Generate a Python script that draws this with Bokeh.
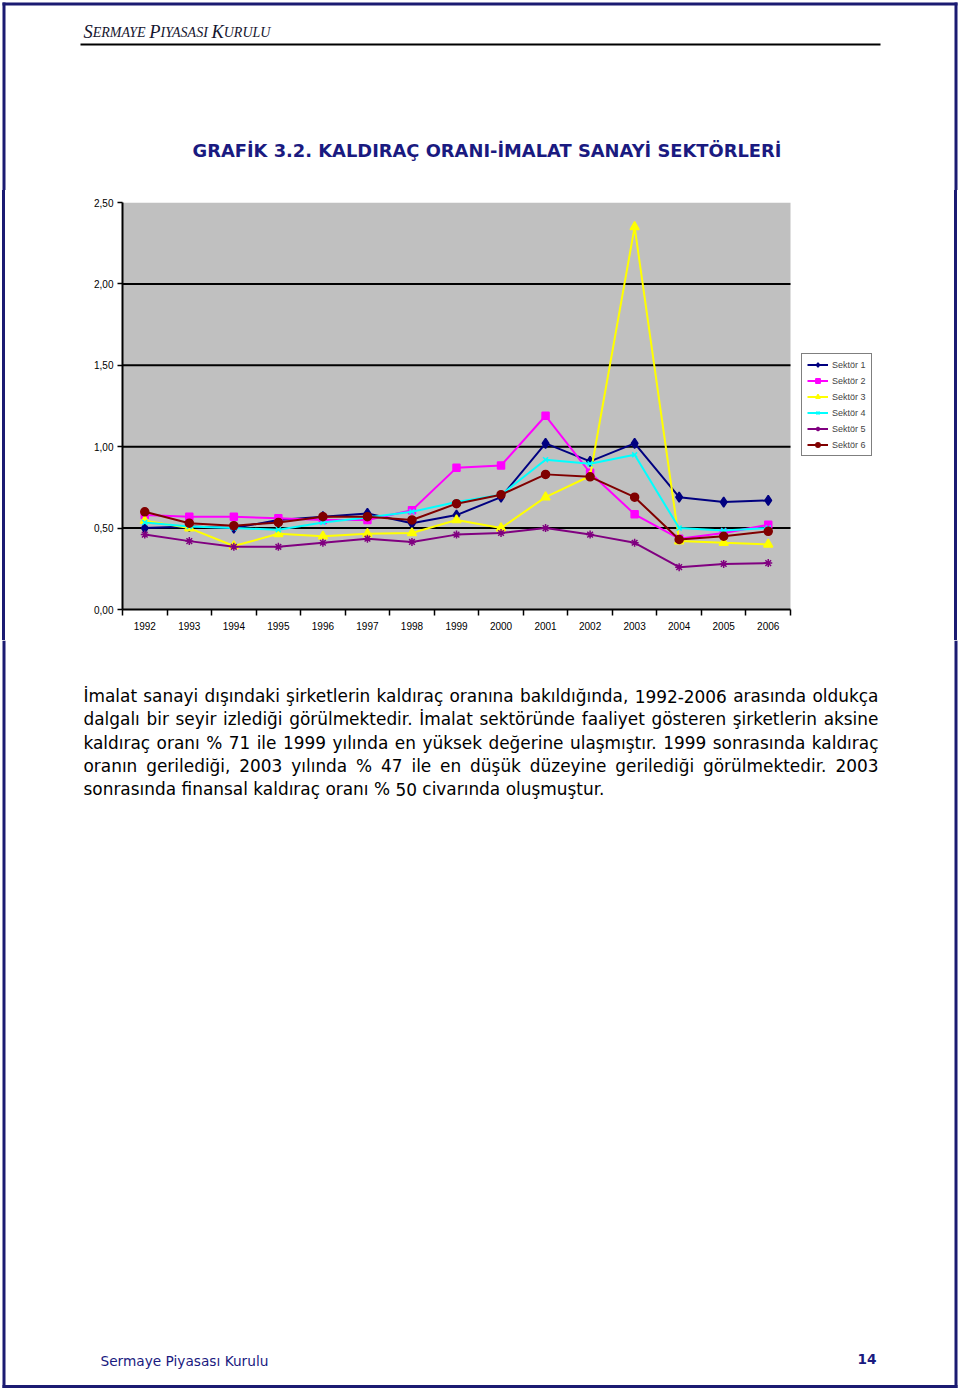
import glob
import os
import subprocess

from bokeh.core.properties import value
from bokeh.embed import file_html
from bokeh.layouts import column, row
from bokeh.models import (ColumnDataSource, CustomJSTickFormatter, FixedTicker,
                          Legend, LegendItem, Range1d, Spacer)
from bokeh.plotting import figure
from bokeh.resources import INLINE

try:
    from PIL import ImageFont
except Exception:  # pragma: no cover
    ImageFont = None

# ---------------------------------------------------------------- data
years = [1992, 1993, 1994, 1995, 1996, 1997, 1998, 1999,
         2000, 2001, 2002, 2003, 2004, 2005, 2006]
sektor1 = [0.50, 0.51, 0.50, 0.55, 0.57, 0.59, 0.53, 0.58,
           0.69, 1.02, 0.91, 1.02, 0.69, 0.66, 0.67]
sektor2 = [0.58, 0.57, 0.57, 0.56, 0.55, 0.55, 0.61, 0.87,
           0.885, 1.19, 0.84, 0.585, 0.435, 0.47, 0.52]
sektor3 = [0.545, 0.50, 0.39, 0.465, 0.45, 0.465, 0.47, 0.55,
           0.50, 0.69, 0.82, 2.35, 0.42, 0.41, 0.40]
sektor4 = [0.535, 0.51, 0.50, 0.49, 0.535, 0.565, 0.60, 0.66,
           0.705, 0.92, 0.895, 0.95, 0.50, 0.485, 0.50]
sektor5 = [0.46, 0.42, 0.385, 0.385, 0.41, 0.435, 0.415, 0.46,
           0.47, 0.50, 0.46, 0.41, 0.26, 0.28, 0.285]
sektor6 = [0.60, 0.53, 0.515, 0.535, 0.57, 0.57, 0.55, 0.65,
           0.705, 0.83, 0.815, 0.69, 0.43, 0.45, 0.48]
series_names = ["Sektör 1", "Sektör 2", "Sektör 3", "Sektör 4", "Sektör 5", "Sektör 6"]
y_ticks = [0, 0.5, 1.0, 1.5, 2.0, 2.5]

title_text = "GRAFİK 3.2. KALDIRAÇ ORANI-İMALAT SANAYİ SEKTÖRLERİ"
body_lines = [
    "İmalat sanayi dışındaki şirketlerin kaldıraç oranına bakıldığında, 1992-2006 arasında oldukça",
    "dalgalı bir seyir izlediği görülmektedir. İmalat sektöründe faaliyet gösteren şirketlerin aksine",
    "kaldıraç oranı % 71 ile 1999 yılında en yüksek değerine ulaşmıştır. 1999 sonrasında kaldıraç",
    "oranın gerilediği, 2003 yılında % 47 ile en düşük düzeyine gerilediği görülmektedir. 2003",
    "sonrasında finansal kaldıraç oranı % 50 civarında oluşmuştur.",
]
footer_text = "Sermaye Piyasası Kurulu"
page_number = "14"

# ---------------------------------------------------------------- styles
NAVY = "#1a1a80"
BORDER = "#1b1b72"
colors = ["#000080", "#FF00FF", "#FFFF00", "#00FFFF", "#800080", "#800000"]
markers = ["diamond", "square", "triangle", "x", "asterisk", "circle"]
msizes = [10, 7, 9, 7, 8, 8]
DY = -6  # baseline correction

# ---------------------------------------------------------------- text metrics
FONT_FILES = {
    ("DejaVu Sans", ""): ["DejaVuSans.ttf"],
    ("DejaVu Sans", "bold"): ["DejaVuSans-Bold.ttf"],
    ("Liberation Serif", "italic"): ["LiberationSerif-Italic.ttf"],
}
_cache = {}


def font_path(family, style):
    key = (family, style)
    if key in _cache:
        return _cache[key]
    path = None
    for name in FONT_FILES.get(key, []):
        for root in ["/usr/share/fonts", "/usr/local/share/fonts",
                     os.path.expanduser("~/.fonts"), os.path.expanduser("~/.local/share/fonts")]:
            hits = glob.glob(os.path.join(root, "**", name), recursive=True)
            if hits:
                path = hits[0]
                break
        if path:
            break
    if path is None:
        try:
            pat = family + (":" + style if style else "")
            out = subprocess.run(["fc-match", "-f", "%{file}", pat],
                                 capture_output=True, text=True, timeout=5).stdout.strip()
            if out and os.path.exists(out):
                path = out
        except Exception:
            path = None
    _cache[key] = path
    return path


def measure(text, family, style, size):
    path = font_path(family, style)
    if ImageFont is not None and path:
        try:
            f = ImageFont.truetype(path, 200)
            return f.getlength(text) * size / 200.0
        except Exception:
            pass
    return len(text) * 0.58 * size


def fit_size(text, family, style, width):
    return width / measure(text, family, style, 1.0)


def page_fig(w, h, x0, x1, y_top, y_bottom, fill="white"):
    f = figure(width=w, height=h, x_range=Range1d(x0, x1),
               y_range=Range1d(y_bottom, y_top), output_backend="svg",
               toolbar_location=None, x_axis_type=None, y_axis_type=None,
               min_border=0)
    f.outline_line_color = None
    f.background_fill_color = fill
    f.border_fill_color = fill
    return f


def put_text(f, xs, ys, texts, family, size, style="normal", color="black"):
    src = ColumnDataSource(dict(x=xs, y=[v + DY for v in ys], t=texts))
    f.text(x="x", y="y", text="t", source=src, text_font=value(family),
           text_font_size=value(f"{size:.2f}px"), text_font_style=value(style),
           text_color=color, text_align=value("left"),
           text_baseline=value("alphabetic"))


# ---------------------------------------------------------------- top part
top = page_fig(960, 190, 0, 960, 0, 190)
top.segment(x0=[2, 3.5, 955.5], y0=[3.5, 2, 2], x1=[957, 3.5, 955.5], y1=[3.5, 190, 190],
            line_color=BORDER, line_width=3)
top.segment(x0=[80], y0=[44], x1=[880], y1=[44], line_color="black", line_width=2)

# small caps header
pieces = [("S", 1), ("ERMAYE ", 0), ("P", 1), ("IYASASI ", 0), ("K", 1), ("URULU", 0)]
ratio = 0.76
unit = sum(measure(t, "Liberation Serif", "italic", 1.0) * (1 if big else ratio)
           for t, big in pieces)
big_size = 187 / unit
x = 83.0
for t, big in pieces:
    s = big_size if big else big_size * ratio
    put_text(top, [x], [37], [t], "Liberation Serif", s, "italic", "#14142e")
    x += measure(t, "Liberation Serif", "italic", s)

tsize = fit_size(title_text, "DejaVu Sans", "bold", 589)
put_text(top, [192], [156], [title_text], "DejaVu Sans", tsize, "bold", NAVY)

# ---------------------------------------------------------------- chart
# frame: page x 122 .. 880 (gray plot area 122 .. 790, legend to its right)
FRAME_W = 758
PLOT_W = 668
x_start = years[0] - 0.5
x_last = years[-1] + 0.5
x_end = x_start + (x_last - x_start) * FRAME_W / PLOT_W

p = figure(width=949, height=450, x_range=Range1d(x_start, x_end),
           y_range=Range1d(0, 2.5), output_backend="svg", toolbar_location=None,
           min_border_left=117, min_border_right=949 - 117 - FRAME_W,
           min_border_top=12, min_border_bottom=31)
p.background_fill_color = "white"
p.border_fill_color = "white"
p.outline_line_color = None
p.xgrid.visible = False
p.ygrid.visible = False

# gray plot area and horizontal grid lines, limited to the category span
p.quad(left=[x_start], right=[x_last], bottom=[y_ticks[0]], top=[y_ticks[-1]],
       fill_color="#C0C0C0", line_color=None)
grid_vals = y_ticks[1:-1]
p.segment(x0=[x_start] * len(grid_vals), x1=[x_last] * len(grid_vals),
          y0=grid_vals, y1=grid_vals, line_color="black", line_width=2)

yax = p.yaxis[0]
yax.ticker = FixedTicker(ticks=y_ticks)
yax.formatter = CustomJSTickFormatter(code="return tick.toFixed(2).replace('.', ',');")
yax.axis_line_color = "black"
yax.axis_line_width = 2
yax.major_tick_out = 5
yax.major_tick_in = 0
yax.major_tick_line_width = 1.5
yax.minor_tick_line_color = None
yax.major_label_standoff = 4
yax.major_label_text_font = "Liberation Sans"
yax.major_label_text_font_size = "10px"
yax.major_label_text_color = "black"

boundaries = [y - 0.5 for y in years] + [years[-1] + 0.5]
xax = p.xaxis[0]
xax.bounds = (x_start, x_last)
xax.ticker = FixedTicker(ticks=years, minor_ticks=boundaries)
xax.formatter = CustomJSTickFormatter(code="return tick.toFixed(0);")
xax.axis_line_color = "black"
xax.axis_line_width = 2
xax.major_tick_line_color = None
xax.major_tick_out = 5
xax.major_tick_in = 0
xax.minor_tick_line_color = "black"
xax.minor_tick_line_width = 1.5
xax.minor_tick_out = 6
xax.minor_tick_in = 0
xax.major_label_standoff = 6
xax.major_label_text_font = "Liberation Sans"
xax.major_label_text_font_size = "10px"
xax.major_label_text_color = "black"

all_series = [sektor1, sektor2, sektor3, sektor4, sektor5, sektor6]
items = []
for name, vals, c, m, ms in zip(series_names, all_series, colors, markers, msizes):
    src = ColumnDataSource(dict(x=years, y=vals))
    lr = p.line(x="x", y="y", source=src, line_color=c, line_width=2)
    sr = p.scatter(x="x", y="y", source=src, marker=m, size=ms,
                   fill_color=c, line_color=c, line_width=1.5)
    items.append(LegendItem(label=name, renderers=[lr, sr]))

# legend: left edge 11px right of the gray area, bottom 153px above frame bottom
legend = Legend(items=items, location=(PLOT_W + 11, 153))
legend.margin = 0
legend.padding = 5
legend.spacing = 5
legend.glyph_width = 21
legend.glyph_height = 11
legend.label_height = 11
legend.label_standoff = 4
legend.label_text_font = "Liberation Sans"
legend.label_text_font_size = "9px"
legend.border_line_color = "black"
legend.border_line_width = 1
legend.background_fill_color = "white"
legend.background_fill_alpha = 1
p.add_layout(legend)

left_bar = Spacer(width=3, height=450, margin=0, styles={"background-color": BORDER})
right_bar = Spacer(width=3, height=450, margin=0, styles={"background-color": BORDER})
middle = row(Spacer(width=2, height=450, margin=0), left_bar, p, right_bar,
             Spacer(width=3, height=450, margin=0), spacing=0)

# ---------------------------------------------------------------- bottom part
bot = page_fig(960, 749, 0, 960, 640, 1389)
bot.segment(x0=[3.5, 955.5, 2], y0=[640, 640, 1386], x1=[3.5, 955.5, 957], y1=[1387.5, 1387.5, 1386],
            line_color=BORDER, line_width=3)

BODY_FONT = "DejaVu Sans"
bsize = fit_size(body_lines[-1], BODY_FONT, "", 521)
left_x, right_x = 83.0, 878.0
space_w = measure(" ", BODY_FONT, "", bsize)
wx, wy, wt = [], [], []
for i, line in enumerate(body_lines):
    words = line.split(" ")
    widths = [measure(w, BODY_FONT, "", bsize) for w in words]
    if i < len(body_lines) - 1 and len(words) > 1:
        gap = (right_x - left_x - sum(widths)) / (len(words) - 1)
    else:
        gap = space_w
    x = left_x
    yb = 701.5 + 23.3 * i
    for w, ww in zip(words, widths):
        wx.append(x)
        wy.append(yb)
        wt.append(w)
        x += ww + gap
put_text(bot, wx, wy, wt, BODY_FONT, bsize)

fsize = fit_size(footer_text, "DejaVu Sans", "", 168)
put_text(bot, [100], [1366], [footer_text], "DejaVu Sans", fsize, "normal", NAVY)
nsize = fit_size(page_number, "DejaVu Sans", "bold", 19)
put_text(bot, [857], [1364], [page_number], "DejaVu Sans", nsize, "bold", NAVY)

layout = column(top, middle, bot, spacing=0)

open("out.html", "w").write(file_html(layout, INLINE))
